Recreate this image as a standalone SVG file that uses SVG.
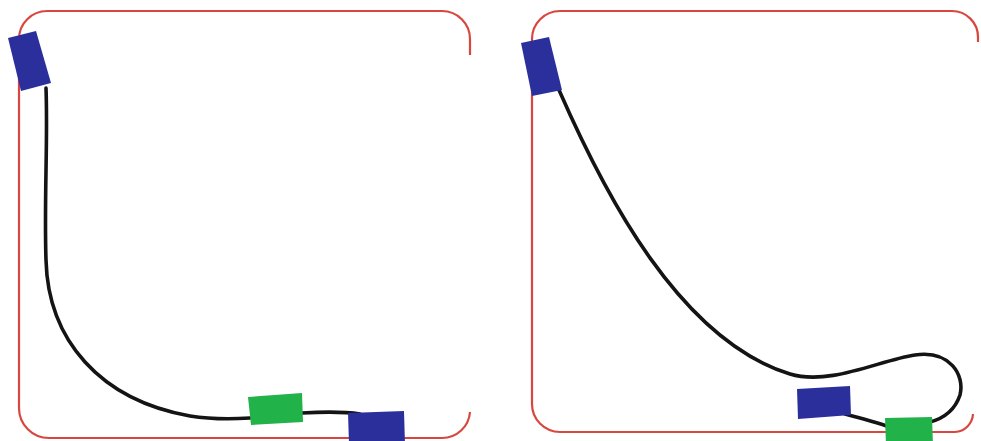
<svg xmlns="http://www.w3.org/2000/svg" width="981" height="441" viewBox="0 0 981 441">
<style>
.frame{fill:none;stroke:#d8473f;stroke-width:2.2}
.cable{fill:none;stroke:#141414;stroke-width:3.6;stroke-linecap:round}
.blue{fill:#2b2f9c}
.green{fill:#22b24a}
</style>
<rect width="981" height="441" fill="#fff"/>
<g id="frames">
<path class="frame" d="M470 55 V39 A28 28 0 0 0 442 11 H47 A28 28 0 0 0 19 39 V408 A30 30 0 0 0 49 438 H442 A28 28 0 0 0 470 412"/>
<path class="frame" d="M978 42 V37 A26 26 0 0 0 952 11 H560 A28 28 0 0 0 532 39 V404 A28 28 0 0 0 560 432 H955 A19 19 0 0 0 973 414"/>
</g>
<g id="connectors">
<path class="cable" d="M46 88 C48 140 44 200 46 260 C48 340 100 400 190 416 C215 420 235 419 250 418"/>
<path class="cable" d="M302 413 C320 412 340 411 360 414"/>
<path class="cable" d="M559 90 C605 195 680 340 790 374 C830 386 880 360 915 355 C950 350 965 375 960 395 C955 410 945 418 930 422"/>
<path class="cable" d="M845 414 C860 418 875 422 890 427"/>
</g>
<g id="blue-top-left"><polygon class="blue" points="8,38 36,31 51,83 21,91"/></g>
<g id="green-left"><polygon class="green" points="248,397 302,393 303,422 251,425"/></g>
<g id="blue-bottom-left"><polygon class="blue" points="348,413 404,411 405,445 349,445"/></g>
<g id="blue-top-right"><polygon class="blue" points="521,43 549,37 562,90 532,96"/></g>
<g id="blue-bottom-right"><polygon class="blue" points="797,389 850,386 851,415 798,419"/></g>
<g id="green-right"><polygon class="green" points="885,418 932,417 933,445 886,445"/></g>
</svg>
